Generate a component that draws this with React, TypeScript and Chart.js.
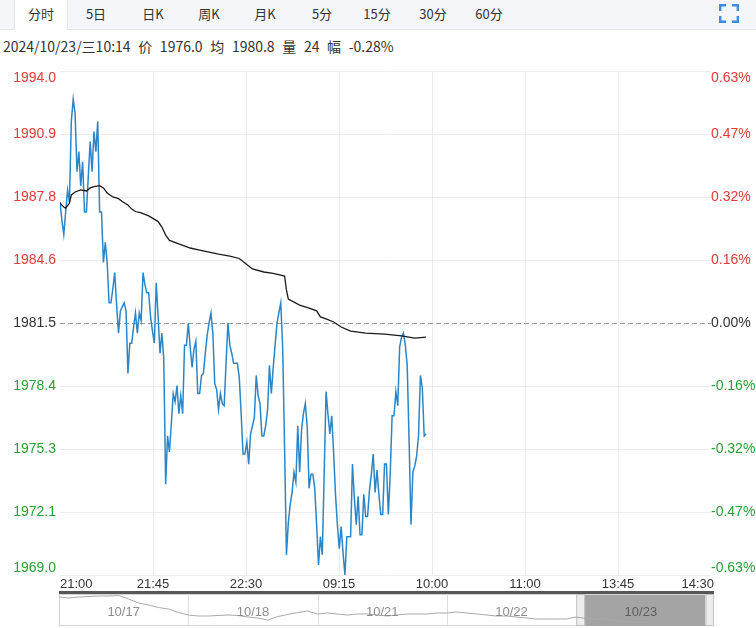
import React, { useEffect, useRef } from 'react';
import { Chart, registerables } from 'chart.js';

Chart.register(...registerables);

// ---------- data ----------
const tabLabels = ['分时', '5日', '日K', '周K', '月K', '5分', '15分', '30分', '60分'];
const infoText = '2024/10/23/三10:14 价 1976.0 均 1980.8 量 24 幅 -0.28%';

const baseClose = 1981.5;
const yTickValues = [1994.0, 1990.875, 1987.75, 1984.625, 1981.5, 1978.375, 1975.25, 1972.125, 1969.0];
const leftTickLabels = ['1994.0', '1990.9', '1987.8', '1984.6', '1981.5', '1978.4', '1975.3', '1972.1', '1969.0'];
const rightTickLabels = ['0.63%', '0.47%', '0.32%', '0.16%', '0.00%', '-0.16%', '-0.32%', '-0.47%', '-0.63%'];
const timeLabels = ['21:00', '21:45', '22:30', '09:15', '10:00', '11:00', '13:45', '14:30'];
const sessionMinutes = 345; // minutes in the trading day (x-axis span)

// price for each minute since 21:00 (index = minute)
const prices = [
  1987.5, 1986.6, 1985.9, 1987.0, 1988.1, 1987.5, 1991.5, 1992.6, 1991.9, 1989.0,
  1990.0, 1988.3, 1989.5, 1987.0, 1987.0, 1988.8, 1990.5, 1989.0, 1991.0, 1990.0,
  1991.5, 1987.0, 1987.0, 1984.5, 1985.5, 1984.5, 1982.5, 1982.5, 1983.2, 1984.0,
  1982.4, 1981.0, 1982.1, 1982.3, 1982.5, 1982.1, 1979.0, 1980.5, 1980.5, 1981.3,
  1982.0, 1981.0, 1982.0, 1981.6, 1984.0, 1983.4, 1983.0, 1983.0, 1981.8, 1981.1,
  1980.5, 1983.5, 1981.8, 1980.0, 1981.0, 1979.7, 1973.5, 1975.9, 1975.1, 1976.5,
  1978.0, 1977.6, 1978.4, 1977.0, 1977.9, 1977.0, 1980.4, 1980.4, 1981.5, 1980.3,
  1979.3, 1980.2, 1980.6, 1978.0, 1978.0, 1978.9, 1979.0, 1980.0, 1980.9, 1981.5,
  1982.0, 1981.0, 1978.5, 1978.2, 1977.2, 1978.0, 1977.5, 1977.4, 1979.5, 1981.5,
  1980.4, 1980.0, 1979.5, 1979.5, 1979.5, 1978.8, 1977.0, 1975.0, 1975.0, 1975.6,
  1974.5, 1976.0, 1976.4, 1976.8, 1978.9, 1977.9, 1977.5, 1975.9, 1975.9, 1976.4,
  1977.2, 1979.4, 1978.0, 1979.3, 1980.4, 1981.5, 1982.0, 1982.5, 1980.3, 1975.4,
  1970.0, 1971.6, 1972.5, 1973.1, 1974.1, 1973.6, 1976.4, 1974.1, 1976.2, 1977.0,
  1977.5, 1976.4, 1973.3, 1974.0, 1974.0, 1973.3, 1971.5, 1969.5, 1970.9, 1970.0,
  1974.0, 1978.1, 1977.0, 1976.0, 1976.9, 1975.1, 1973.0, 1971.5, 1970.3, 1971.4,
  1970.1, 1969.0, 1970.9, 1970.9, 1970.9, 1974.5, 1972.8, 1971.5, 1972.9, 1971.0,
  1971.0, 1973.0, 1971.9, 1971.9, 1973.2, 1974.0, 1975.0, 1973.1, 1974.2, 1973.0,
  1972.0, 1972.0, 1974.5, 1974.5, 1972.0, 1974.0, 1976.9, 1976.9, 1978.1, 1977.4,
  1980.3, 1980.8, 1981.0, 1980.4, 1979.4, 1975.7, 1971.5, 1974.1, 1974.4, 1974.9,
  1975.9, 1978.9, 1978.3, 1975.9, 1976.0,
];

// average price line, read at these minutes
const avgMinutes = [0, 2, 3, 5, 6, 8, 11, 14, 16, 18, 21, 23, 25, 28, 31, 33, 36, 38, 40, 43,
  47, 52, 54, 56, 58, 63, 69, 74, 79, 84, 90, 95, 98, 102, 108, 113, 119, 120, 121, 127,
  132, 136, 138, 141, 145, 149, 154, 162, 172, 181, 188, 194];
const avgValues = [1987.45, 1987.25, 1987.2, 1987.45, 1987.85, 1988.0, 1988.1, 1988.05, 1988.2, 1988.27,
  1988.31, 1988.2, 1987.95, 1987.75, 1987.67, 1987.53, 1987.35, 1987.15, 1987.03, 1986.96,
  1986.81, 1986.53, 1986.26, 1985.86, 1985.6, 1985.42, 1985.22, 1985.12, 1985.02, 1984.92,
  1984.82, 1984.7, 1984.48, 1984.18, 1984.03, 1983.96, 1983.83, 1983.14, 1982.69, 1982.39,
  1982.24, 1982.1, 1981.8, 1981.7, 1981.55, 1981.3, 1981.1, 1981.0, 1980.95, 1980.86,
  1980.75, 1980.8];

// navigator (5 trading days)
const navDays = ['10/17', '10/18', '10/21', '10/22', '10/23'];
const navPointsPerDay = 13;
const navValues = [
  2047.5, 2044.5, 2047.5, 2049, 2050.5, 2050.5, 2052, 2041.5, 2029.5, 2023.5, 2016, 2011.5, 2001,
  1993.5, 1990.5, 1990.5, 1992, 1993.5, 1992, 1987.5, 1984.5, 1978.5, 1989, 1995, 2001, 2005.5,
  1996.5, 1999.5, 1996.5, 1993.5, 1996.5, 1996.5, 1993.5, 1990.5, 1993.5, 1996.5, 1996.5, 1996.5, 1999.5,
  1999.5, 2002.5, 1999.5, 1996.5, 1993.5, 1990.5, 1990.5, 1987.5, 1984.5, 1981.5, 1981.5, 1981.5, 1981.5,
  1987.5, 1983, 1980.5, 1982, 1977.5, 1973.5, 1971, 1971.5,
];
const navMin = 1966.5;
const navMax = 2053.5;

// ---------- styles ----------
const RED = '#e03a3a';
const GREEN = '#2a9e38';
const TEXT = '#333333';
const X_FONT = '13px Arial, "Liberation Sans", sans-serif';
const Y_FONT = '14px Arial, "Liberation Sans", sans-serif';

const mainDecor = {
  id: 'mainDecor',
  beforeDatasetsDraw(chart: any) {
    const { ctx, chartArea, scales } = chart;
    const yb = Math.round(scales.y.getPixelForValue(baseClose)) + 0.5;
    ctx.save();
    ctx.strokeStyle = '#9a9a9a';
    ctx.lineWidth = 1;
    ctx.setLineDash([5, 3]);
    ctx.beginPath();
    ctx.moveTo(chartArea.left, yb);
    ctx.lineTo(chartArea.right, yb);
    ctx.stroke();
    ctx.restore();
  },
  afterDraw(chart: any) {
    const { ctx, chartArea, scales } = chart;
    ctx.save();
    ctx.font = Y_FONT;
    ctx.textBaseline = 'middle';
    const last = yTickValues.length - 1;
    yTickValues.forEach((v, i) => {
      let py = scales.y.getPixelForValue(v);
      if (i === 0) py += 7;
      if (i === last) py -= 7;
      const c = v > baseClose + 1e-9 ? RED : v < baseClose - 1e-9 ? GREEN : TEXT;
      ctx.fillStyle = c;
      ctx.textAlign = 'right';
      ctx.fillText(leftTickLabels[i], chartArea.left - 4, py);
      ctx.textAlign = 'left';
      ctx.fillText(rightTickLabels[i], chartArea.right + 0, py);
    });
    ctx.font = X_FONT;
    const lastT = timeLabels.length - 1;
    ctx.fillStyle = TEXT;
    timeLabels.forEach((t, i) => {
      const px = scales.x.getPixelForValue((i * sessionMinutes) / lastT);
      if (i === 0) {
        ctx.textAlign = 'left';
        ctx.fillText(t, px, chartArea.bottom + 9);
      } else if (i === lastT) {
        ctx.textAlign = 'right';
        ctx.fillText(t, px + 3, chartArea.bottom + 9);
      } else {
        ctx.textAlign = 'center';
        ctx.fillText(t, px, chartArea.bottom + 9);
      }
    });
    ctx.restore();
  },
};

const navDecor = {
  id: 'navDecor',
  beforeDatasetsDraw(chart: any) {
    const { ctx, chartArea, scales } = chart;
    const top = 5;
    const bottom = 36;
    const left = 59;
    const right = 714;
    ctx.save();
    ctx.strokeStyle = '#d4d4d4';
    ctx.lineWidth = 1;
    ctx.strokeRect(left + 0.5, top + 0.5, right - left - 1, bottom - top);
    ctx.strokeStyle = '#dedede';
    for (let d = 1; d < navDays.length; d++) {
      const px = Math.round(scales.x.getPixelForValue(d * navPointsPerDay)) + 0.5;
      ctx.beginPath();
      ctx.moveTo(px, top);
      ctx.lineTo(px, bottom);
      ctx.stroke();
    }
    const selL = scales.x.getPixelForValue((navDays.length - 1) * navPointsPerDay);
    const selR = chartArea.right;
    ctx.fillStyle = '#a4a4a4';
    ctx.fillRect(selL + 8, top + 1, selR - selL - 8, bottom - top);
    ctx.fillStyle = '#ededed';
    ctx.strokeStyle = '#c2c2c2';
    ctx.fillRect(selL, top + 1, 8, bottom - top);
    ctx.strokeRect(selL + 0.5, top + 0.5, 8, bottom - top);
    ctx.fillRect(selR, top + 1, right - selR, bottom - top);
    ctx.strokeRect(selR + 0.5, top + 0.5, right - selR - 1, bottom - top);
    ctx.fillStyle = '#575757';
    ctx.fillRect(left, 2, right - left, 3);
    ctx.restore();
  },
  afterDraw(chart: any) {
    const { ctx, scales } = chart;
    ctx.save();
    ctx.font = X_FONT;
    ctx.textAlign = 'center';
    ctx.textBaseline = 'middle';
    navDays.forEach((d, i) => {
      const l = scales.x.getPixelForValue(i * navPointsPerDay);
      const r = scales.x.getPixelForValue((i + 1) * navPointsPerDay);
      ctx.fillStyle = i === navDays.length - 1 ? '#5e5e5e' : '#8c8c8c';
      ctx.fillText(d, (l + r) / 2, 23);
    });
    ctx.restore();
  },
};

export default function App() {
  const mainRef = useRef<HTMLCanvasElement>(null);
  const navRef = useRef<HTMLCanvasElement>(null);

  useEffect(() => {
    document.body.style.margin = '0';
    const lastT = timeLabels.length - 1;
    const main = new Chart(mainRef.current as HTMLCanvasElement, {
      type: 'line',
      data: {
        datasets: [
          {
            label: '均价',
            data: avgMinutes.map((m, i) => ({ x: m, y: avgValues[i] })),
            borderColor: '#1a1a1a',
            borderWidth: 1.3,
            pointRadius: 0,
            tension: 0,
            fill: false,
          },
          {
            label: '价格',
            data: prices.map((p, i) => ({ x: i, y: p })),
            borderColor: '#2a86c8',
            borderWidth: 1.5,
            pointRadius: 0,
            tension: 0,
            fill: false,
          },
        ],
      },
      options: {
        responsive: false,
        animation: false,
        events: [],
        layout: { padding: { left: 60, right: 45, top: 9, bottom: 17 } },
        plugins: { legend: { display: false }, tooltip: { enabled: false } },
        scales: {
          x: {
            type: 'linear',
            min: 0,
            max: sessionMinutes,
            afterBuildTicks: (s: any) => {
              s.ticks = timeLabels.map((_, i) => ({ value: (i * sessionMinutes) / lastT }));
            },
            afterFit: (s: any) => { s.height = 0; },
            ticks: { display: false },
            grid: {
              drawTicks: false,
              color: (c: any) => (c.index === 0 || c.index === lastT ? 'rgba(0,0,0,0)' : '#ececec'),
            },
            border: { display: false },
          },
          y: {
            min: yTickValues[yTickValues.length - 1],
            max: yTickValues[0],
            afterBuildTicks: (s: any) => {
              s.ticks = yTickValues.map((v) => ({ value: v }));
            },
            afterFit: (s: any) => { s.width = 0; },
            ticks: { display: false },
            grid: {
              drawTicks: false,
              color: (c: any) => (c.tick && Math.abs(c.tick.value - baseClose) < 1e-9 ? 'rgba(0,0,0,0)' : '#ececec'),
            },
            border: { display: false },
          },
        },
      },
      plugins: [mainDecor],
    } as any);

    const nav = new Chart(navRef.current as HTMLCanvasElement, {
      type: 'line',
      data: {
        datasets: [
          {
            data: navValues.map((v, i) => ({ x: i, y: v })),
            borderColor: '#a9a9a9',
            borderWidth: 1,
            pointRadius: 0,
            tension: 0,
            fill: false,
          },
        ],
      },
      options: {
        responsive: false,
        animation: false,
        events: [],
        layout: { padding: { left: 59, right: 50.5, top: 6, bottom: 4 } },
        plugins: { legend: { display: false }, tooltip: { enabled: false } },
        scales: {
          x: { type: 'linear', min: 0, max: navDays.length * navPointsPerDay, display: false },
          y: { min: navMin, max: navMax, display: false },
        },
      },
      plugins: [navDecor],
    } as any);

    return () => {
      main.destroy();
      nav.destroy();
    };
  }, []);

  const cjk = '"Microsoft YaHei", "Noto Sans CJK SC", sans-serif';
  const tabCenters = [41, 96, 153, 209, 265, 322, 377, 433, 489];

  return (
    <div style={{ position: 'absolute', left: 0, top: 0, width: 756, height: 628, background: '#fff', overflow: 'hidden' }}>
      <div style={{ position: 'absolute', left: 0, top: 0, width: 756, height: 29, background: '#f4f6f9', borderBottom: '1px solid #e3e6ea' }} />
      <div style={{ position: 'absolute', left: 14, top: 0, width: 54, height: 30, background: '#fff', borderLeft: '1px solid #e3e6ea', borderRight: '1px solid #e3e6ea', boxSizing: 'border-box' }} />
      {tabLabels.map((t, i) => (
        <span
          key={t}
          style={{
            position: 'absolute', left: tabCenters[i], top: 5, transform: 'translateX(-50%)',
            fontFamily: cjk, fontSize: 13, lineHeight: '18px', color: '#333', whiteSpace: 'nowrap',
          }}
        >
          {t}
        </span>
      ))}
      <svg style={{ position: 'absolute', left: 719, top: 4 }} width={20} height={19} viewBox="0 0 20 19">
        <g fill="none" stroke="#3a8de0" strokeWidth={2.4}>
          <path d="M1.2 7 V1.2 H7" />
          <path d="M13 1.2 H18.8 V7" />
          <path d="M1.2 12 V17.8 H7" />
          <path d="M13 17.8 H18.8 V12" />
        </g>
      </svg>
      <div style={{ position: 'absolute', left: 3, top: 37, fontFamily: cjk, fontSize: 14, lineHeight: '18px', color: '#333', whiteSpace: 'pre', wordSpacing: 4.5 }}>
        {infoText}
      </div>
      <canvas ref={mainRef} width={756} height={530} style={{ position: 'absolute', left: 0, top: 62, width: 756, height: 530 }} />
      <canvas ref={navRef} width={756} height={39} style={{ position: 'absolute', left: 0, top: 589, width: 756, height: 39 }} />
    </div>
  );
}
